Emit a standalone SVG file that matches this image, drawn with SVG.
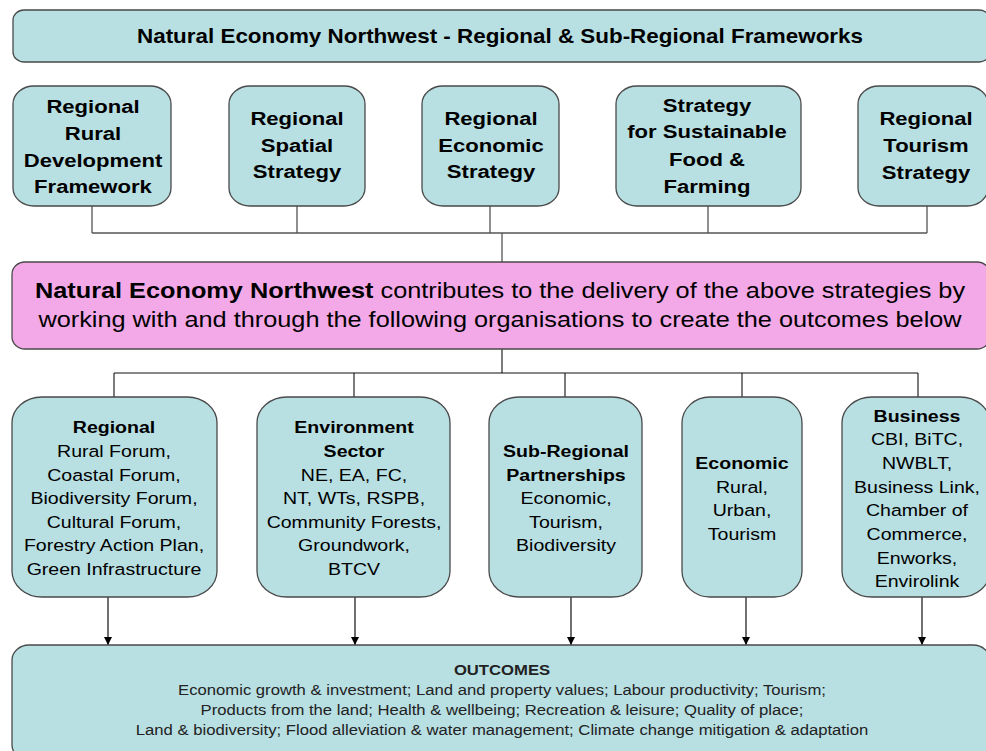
<svg xmlns="http://www.w3.org/2000/svg" width="986" height="751" viewBox="0 0 986 751">
  <defs>
    <style>
      .box { fill: #B8DFE2; stroke: #4a4a4a; stroke-width: 1.3; }
      .pink { fill: #F3A9E7; stroke: #4a4a4a; stroke-width: 1.3; }
      .wire { fill: none; stroke: #555555; stroke-width: 1.3; }
      .wire2 { fill: none; stroke: #111111; stroke-width: 1.1; }
      .arrow { fill: none; stroke: #111111; stroke-width: 1.2; marker-end: url(#head); }
      text { font-family: "Liberation Sans", Arial, Helvetica, sans-serif; text-anchor: middle; fill: #000000; }
      .h1 { font-size: 19.5px; font-weight: bold; }
      .h2 { font-size: 19.2px; font-weight: bold; }
      .mid { font-size: 22px; }
      .org { font-size: 17px; }
      .out { font-size: 14.5px; fill: #222222; }
      .bold { font-weight: bold; }
    </style>
    <marker id="head" viewBox="0 0 10 10" refX="10" refY="5" markerWidth="8" markerHeight="8" markerUnits="userSpaceOnUse" orient="auto">
      <path d="M0,0 L10,5 L0,10 z" fill="#000000"/>
    </marker>
  </defs>

  <!-- banner -->
  <g id="banner">
    <rect class="box" x="13" y="10" width="977" height="52" rx="11" ry="10"/>
    <g transform="translate(500 0) scale(1.15 1)">
      <text class="h1" x="0" y="43">Natural Economy Northwest - Regional &amp; Sub-Regional Frameworks</text>
    </g>
  </g>

  <!-- connectors -->
  <g id="connectors">
    <path class="wire" d="M92,206 V233 M297,206 V233 M490,206 V233 M708,206 V233 M927,206 V233 M92,233 H927 M502,233 V262"/>
    <path class="wire2" d="M502,349 V373 M114,373 H918 M114,373 V397 M354,373 V397 M565,373 V397 M742,373 V397 M918,373 V397"/>
    <path class="arrow" d="M108,597 V645"/>
    <path class="arrow" d="M355,597 V645"/>
    <path class="arrow" d="M571,597 V645"/>
    <path class="arrow" d="M746,597 V645"/>
    <path class="arrow" d="M922,597 V645"/>
  </g>

  <!-- strategies -->
  <g id="rural-development">
    <rect class="box" x="13" y="86" width="158" height="120" rx="21" ry="18"/>
    <g transform="translate(93 0) scale(1.15 1)">
      <text class="h2" x="0" y="113">Regional</text>
      <text class="h2" x="0" y="140">Rural</text>
      <text class="h2" x="0" y="167">Development</text>
      <text class="h2" x="0" y="193">Framework</text>
    </g>
  </g>
  <g id="spatial">
    <rect class="box" x="229" y="86" width="136" height="120" rx="21" ry="18"/>
    <g transform="translate(297 0) scale(1.15 1)">
      <text class="h2" x="0" y="125">Regional</text>
      <text class="h2" x="0" y="152">Spatial</text>
      <text class="h2" x="0" y="178">Strategy</text>
    </g>
  </g>
  <g id="economic">
    <rect class="box" x="422" y="86" width="137" height="120" rx="21" ry="18"/>
    <g transform="translate(491 0) scale(1.15 1)">
      <text class="h2" x="0" y="125">Regional</text>
      <text class="h2" x="0" y="152">Economic</text>
      <text class="h2" x="0" y="178">Strategy</text>
    </g>
  </g>
  <g id="food-farming">
    <rect class="box" x="616" y="86" width="185" height="120" rx="21" ry="18"/>
    <g transform="translate(707 0) scale(1.15 1)">
      <text class="h2" x="0" y="112">Strategy</text>
      <text class="h2" x="0" y="138">for Sustainable</text>
      <text class="h2" x="0" y="166">Food &amp;</text>
      <text class="h2" x="0" y="193">Farming</text>
    </g>
  </g>
  <g id="tourism">
    <rect class="box" x="858" y="86" width="130" height="120" rx="21" ry="18"/>
    <g transform="translate(926 0) scale(1.15 1)">
      <text class="h2" x="0" y="125">Regional</text>
      <text class="h2" x="0" y="152">Tourism</text>
      <text class="h2" x="0" y="179">Strategy</text>
    </g>
  </g>

  <!-- central statement -->
  <g id="nenw">
    <rect class="pink" x="12" y="262" width="978" height="87" rx="13" ry="12"/>
    <g transform="translate(500 0) scale(1.15 1)">
      <text class="mid" x="0" y="298"><tspan class="bold">Natural Economy Northwest</tspan> contributes to the delivery of the above strategies by</text>
      <text class="mid" x="0" y="327">working with and through the following organisations to create the outcomes below</text>
    </g>
  </g>

  <!-- partner organisations -->
  <g id="regional">
    <rect class="box" x="12" y="397" width="205" height="200" rx="30" ry="26"/>
    <g class="org" transform="translate(114 0) scale(1.15 1)">
      <text class="org bold" x="0" y="433">Regional</text>
      <text class="org" x="0" y="457">Rural Forum,</text>
      <text class="org" x="0" y="481">Coastal Forum,</text>
      <text class="org" x="0" y="504">Biodiversity Forum,</text>
      <text class="org" x="0" y="528">Cultural Forum,</text>
      <text class="org" x="0" y="551">Forestry Action Plan,</text>
      <text class="org" x="0" y="575">Green Infrastructure</text>
    </g>
  </g>
  <g id="environment">
    <rect class="box" x="257" y="397" width="193" height="200" rx="30" ry="26"/>
    <g transform="translate(354 0) scale(1.15 1)">
      <text class="org bold" x="0" y="433">Environment</text>
      <text class="org bold" x="0" y="457">Sector</text>
      <text class="org" x="0" y="481">NE, EA, FC,</text>
      <text class="org" x="0" y="504">NT, WTs, RSPB,</text>
      <text class="org" x="0" y="528">Community Forests,</text>
      <text class="org" x="0" y="551">Groundwork,</text>
      <text class="org" x="0" y="575">BTCV</text>
    </g>
  </g>
  <g id="sub-regional">
    <rect class="box" x="489" y="397" width="153" height="200" rx="30" ry="26"/>
    <g transform="translate(566 0) scale(1.15 1)">
      <text class="org bold" x="0" y="457">Sub-Regional</text>
      <text class="org bold" x="0" y="481">Partnerships</text>
      <text class="org" x="0" y="504">Economic,</text>
      <text class="org" x="0" y="528">Tourism,</text>
      <text class="org" x="0" y="551">Biodiversity</text>
    </g>
  </g>
  <g id="economic-partners">
    <rect class="box" x="682" y="397" width="120" height="200" rx="28" ry="26"/>
    <g transform="translate(742 0) scale(1.15 1)">
      <text class="org bold" x="0" y="469">Economic</text>
      <text class="org" x="0" y="493">Rural,</text>
      <text class="org" x="0" y="516">Urban,</text>
      <text class="org" x="0" y="540">Tourism</text>
    </g>
  </g>
  <g id="business">
    <rect class="box" x="842" y="397" width="148" height="200" rx="30" ry="26"/>
    <g transform="translate(917 0) scale(1.15 1)">
      <text class="org bold" x="0" y="422">Business</text>
      <text class="org" x="0" y="445">CBI, BiTC,</text>
      <text class="org" x="0" y="469">NWBLT,</text>
      <text class="org" x="0" y="493">Business Link,</text>
      <text class="org" x="0" y="516">Chamber of</text>
      <text class="org" x="0" y="540">Commerce,</text>
      <text class="org" x="0" y="564">Enworks,</text>
      <text class="org" x="0" y="587">Envirolink</text>
    </g>
  </g>

  <!-- outcomes -->
  <g id="outcomes">
    <rect class="box" x="12" y="645" width="978" height="115" rx="17" ry="15"/>
    <g transform="translate(502 0) scale(1.15 1)">
      <text class="out bold" x="0" y="675" fill="#000000">OUTCOMES</text>
      <text class="out" x="0" y="695">Economic growth &amp; investment; Land and property values; Labour productivity; Tourism;</text>
      <text class="out" x="0" y="715">Products from the land; Health &amp; wellbeing; Recreation &amp; leisure; Quality of place;</text>
      <text class="out" x="0" y="735">Land &amp; biodiversity; Flood alleviation &amp; water management; Climate change mitigation &amp; adaptation</text>
    </g>
  </g>
</svg>
